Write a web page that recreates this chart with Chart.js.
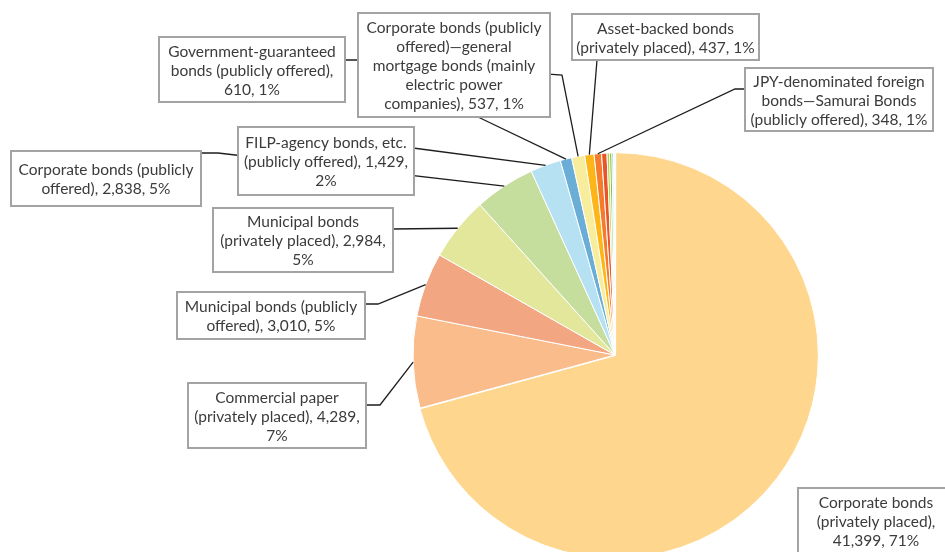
<!DOCTYPE html>
<html>
<head>
<meta charset="utf-8">
<script src="https://cdn.jsdelivr.net/npm/chart.js@4.4.1/dist/chart.umd.min.js"></script>
<style>
html, body { margin: 0; padding: 0; background: #fff; overflow: hidden; }
#wrap { width: 945px; height: 552px; overflow: hidden; }
</style>
</head>
<body>
<div id="wrap"><canvas id="pie-chart" width="945" height="600"></canvas></div>
<script>
// slices, clockwise from 12 o'clock
var categories = [
    'Corporate bonds (privately placed)',
    'Commercial paper (privately placed)',
    'Municipal bonds (publicly offered)',
    'Municipal bonds (privately placed)',
    'Corporate bonds (publicly offered)',
    'FILP-agency bonds, etc. (publicly offered)',
    'Corporate bonds (publicly offered)—general mortgage bonds (mainly electric power companies)',
    'Government-guaranteed bonds (publicly offered)',
    'Asset-backed bonds (privately placed)',
    'JPY-denominated foreign bonds—Samurai Bonds (publicly offered)',
    'Other 1', 'Other 2', 'Other 3', 'Other 4', 'Other 5', 'Other 6'
];
var values = [41399, 4289, 3010, 2984, 2838, 1429, 537, 610, 437, 348, 250, 120, 110, 70, 40, 30];

// label text as shown in the callouts (null = no callout)
var labelLines = [
    ['Corporate bonds', '(privately placed),', '41,399, 71%'],
    ['Commercial paper', '(privately placed), 4,289,', '7%'],
    ['Municipal bonds (publicly', 'offered), 3,010, 5%'],
    ['Municipal bonds', '(privately placed), 2,984,', '5%'],
    ['Corporate bonds (publicly', 'offered), 2,838, 5%'],
    ['FILP-agency bonds, etc.', '(publicly offered), 1,429,', '2%'],
    ['Corporate bonds (publicly', 'offered)\u2014general', 'mortgage bonds (mainly', 'electric power', 'companies), 537, 1%'],
    ['Government-guaranteed', 'bonds (publicly offered),', '610, 1%'],
    ['Asset-backed bonds', '(privately placed), 437, 1%'],
    ['JPY-denominated foreign', 'bonds\u2014Samurai Bonds', '(publicly offered), 348, 1%'],
    null, null, null, null, null, null
];

var sliceColors = ['#FED68E', '#F9BC8A', '#F3A682', '#E2E79B', '#C5DE9D', '#B5E1F2', '#6AAED7', '#F8ED9C',
    '#FDB517', '#F47C2A', '#E9542A', '#B3D336', '#7DC243', '#5EC5EE', '#4B8FCB', '#9A9A9A'];

// callout boxes and leader start points (pixels)
var callouts = [
    { box: [798, 488, 156, 80], leader: null },
    { box: [188, 383, 178, 65], leader: [[366, 405], [380, 405]] },
    { box: [177, 292, 188, 47], leader: [[365, 304], [378, 304]] },
    { box: [213, 208, 180, 64], leader: [[393, 229]] },
    { box: [11, 151, 190, 55], leader: [[201, 153], [218, 153]] },
    { box: [238, 127, 176, 68], leader: [[413, 148]] },
    { box: [358, 13, 192, 104], leader: [[478, 117]] },
    { box: [159, 37, 186, 65], leader: [[345, 60], [358, 60], [562, 75]] },
    { box: [572, 14, 187, 46], leader: [[597, 60]] },
    { box: [745, 68, 188, 63], leader: [[745, 89], [735, 89]] }
];

var calloutPlugin = {
    id: 'callouts',
    afterDatasetsDraw: function(chart) {
        var ctx = chart.ctx;
        var arcs = chart.getDatasetMeta(0).data;
        ctx.save();
        // leader lines go under the boxes
        ctx.strokeStyle = '#1e1e1e';
        ctx.lineWidth = 1.3;
        callouts.forEach(function(c, i) {
            if (!c || !c.leader) return;
            var p = arcs[i].getProps(['x', 'y', 'startAngle', 'endAngle', 'outerRadius'], true);
            var mid = (p.startAngle + p.endAngle) / 2;
            ctx.beginPath();
            ctx.moveTo(c.leader[0][0], c.leader[0][1]);
            for (var k = 1; k < c.leader.length; k++) ctx.lineTo(c.leader[k][0], c.leader[k][1]);
            ctx.lineTo(p.x + Math.cos(mid) * p.outerRadius, p.y + Math.sin(mid) * p.outerRadius);
            ctx.stroke();
        });
        // boxes with text
        ctx.font = '15.5px Lato';
        ctx.textAlign = 'center';
        ctx.textBaseline = 'middle';
        callouts.forEach(function(c, i) {
            if (!c) return;
            var b = c.box;
            ctx.fillStyle = '#ffffff';
            ctx.fillRect(b[0], b[1], b[2], b[3]);
            ctx.strokeStyle = '#a3a3a3';
            ctx.lineWidth = 2;
            ctx.strokeRect(b[0], b[1], b[2], b[3]);
            var lines = labelLines[i];
            var lh = 19;
            var cx = b[0] + b[2] / 2;
            var y0 = b[1] + b[3] / 2 - (lines.length - 1) * lh / 2 + 1;
            if (i === 0) y0 = b[1] + 15;
            ctx.fillStyle = '#3b3b3b';
            lines.forEach(function(t, j) {
                ctx.fillText(t, cx, y0 + j * lh);
            });
        });
        ctx.restore();
    }
};

var offsets = values.map(function(v, i) { return i === 0 ? 3 : 0; });

var ctx = document.getElementById('pie-chart').getContext('2d');
var pieChart = new Chart(ctx, {
    type: 'pie',
    data: {
        labels: categories,
        datasets: [{
            data: values,
            backgroundColor: sliceColors,
            borderColor: '#ffffff',
            borderWidth: 1,
            offset: offsets
        }]
    },
    options: {
        responsive: false,
        animation: false,
        layout: { padding: { top: 151, bottom: 41, left: 411, right: 126 } },
        plugins: {
            legend: { display: false },
            tooltip: { enabled: false }
        }
    },
    plugins: [calloutPlugin]
});
</script>
</body>
</html>
